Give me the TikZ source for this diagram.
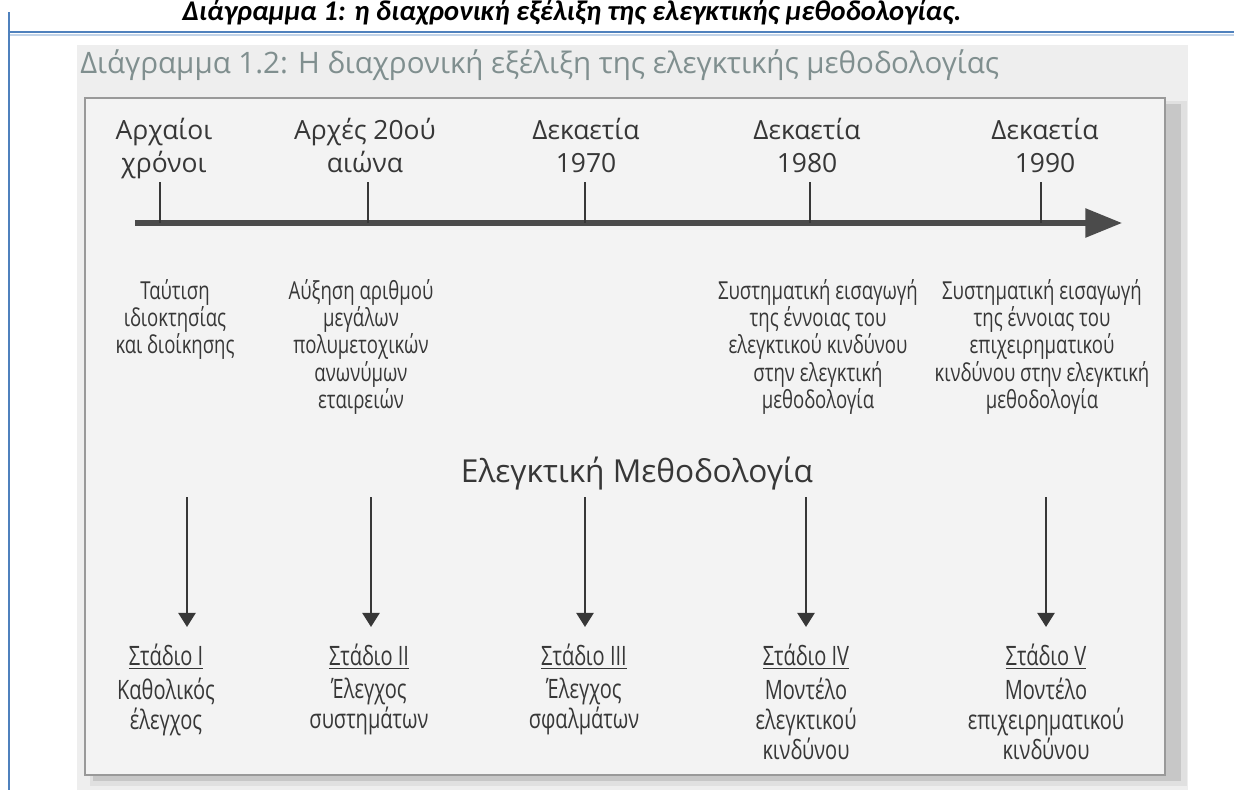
\documentclass[tikz,border=0pt]{standalone}
\usepackage{fontspec}
\setmainfont{Open Sans}
\newfontfamily\titlefont{Carlito}
\newfontfamily\narrowfont[FakeStretch=0.75]{Open Sans}
\usepackage{tikz}
\usetikzlibrary{arrows.meta,positioning}

\definecolor{wordblue}{RGB}{79,129,189}
\definecolor{scanbg}{RGB}{238,238,238}
\definecolor{boxbg}{RGB}{243,243,243}
\definecolor{inkgray}{RGB}{55,55,55}
\definecolor{subgray}{RGB}{128,143,143}

\begin{document}
\begin{tikzpicture}[x=0.025cm,y=-0.025cm,
every node/.style={inner sep=0pt,text=inkgray},
datelabel/.style={anchor=north,align=center,font=\fontsize{18.8}{23.5}\selectfont},
changetext/.style={anchor=north,align=center,font=\narrowfont\fontsize{17.6}{19.4}\selectfont},
stagehead/.style={anchor=north,font=\narrowfont\fontsize{19}{21.3}\selectfont},
stagetext/.style={align=center,font=\narrowfont\fontsize{19}{21.3}\selectfont},
yeartick/.style={draw=inkgray,line width=2pt},
stagearrow/.style={draw=inkgray,line width=2pt,-{Triangle[length=10pt,width=12pt]}}]
\useasboundingbox (0,0) rectangle (1234,790);
\fill[white] (0,0) rectangle (1234,790);
\fill[scanbg] (77,45) rectangle (1188,790);
\fill[black!12] (90,101) rectangle (1187,786);
\fill[black!22] (93,104) rectangle (1181,781);
\draw[draw=black!40,line width=1.2pt,fill=boxbg] (85,98) rectangle (1165,775);
\draw[wordblue,line width=2pt] (9,32) -- (1234,32);
\draw[wordblue!35,line width=1.2pt] (9,35) -- (1234,35);
\draw[wordblue,line width=1.6pt] (9,12) -- (9,790);

\node[anchor=base,font=\titlefont\bfseries\itshape\fontsize{20.3}{24}\selectfont,text=black] (title) at (572,20)
 {Διάγραμμα 1: η διαχρονική εξέλιξη της ελεγκτικής μεθοδολογίας.};
\node[anchor=base west,font=\fontsize{21}{25}\selectfont,text=subgray] (subtitle) at (80,73)
 {Διάγραμμα 1.2: Η διαχρονική εξέλιξη της ελεγκτικής μεθοδολογίας};

\coordinate (tlstart) at (135,223);
\coordinate (tlend) at (1122,223);
\draw[draw=inkgray!90,line width=3.6pt,-{Triangle[length=26pt,width=20pt]}] (tlstart) -- (tlend);
\draw[yeartick] (160,182) -- (160,223);
\draw[yeartick] (368,182) -- (368,223);
\draw[yeartick] (585,182) -- (585,223);
\draw[yeartick] (810,182) -- (810,223);
\draw[yeartick] (1041,182) -- (1041,223);

\node[datelabel] (d1) at (164,118) {Αρχαίοι\\χρόνοι};
\node[datelabel] (d2) at (365,118) {Αρχές 20ού\\αιώνα};
\node[datelabel] (d3) at (586,118) {Δεκαετία\\1970};
\node[datelabel] (d4) at (807,118) {Δεκαετία\\1980};
\node[datelabel] (d5) at (1045,118) {Δεκαετία\\1990};

\node[changetext] (c1) at (175,279) {Ταύτιση\\ιδιοκτησίας\\και διοίκησης};
\node[changetext] (c2) at (361,279) {Αύξηση αριθμού\\μεγάλων\\πολυμετοχικών\\ανωνύμων\\εταιρειών};
\node[changetext] (c4) at (818,279) {Συστηματική εισαγωγή\\της έννοιας του\\ελεγκτικού κινδύνου\\στην ελεγκτική\\μεθοδολογία};
\node[changetext] (c5) at (1042,279) {Συστηματική εισαγωγή\\της έννοιας του\\επιχειρηματικού\\κινδύνου στην ελεγκτική\\μεθοδολογία};

\node[anchor=base,font=\fontsize{22.5}{26}\selectfont] (method) at (637,482) {Ελεγκτική Μεθοδολογία};

\coordinate (m1) at (187,497);
\coordinate (m2) at (371,497);
\coordinate (m3) at (585,497);
\coordinate (m4) at (806,497);
\coordinate (m5) at (1046,497);
\coordinate (p1) at (187,627);
\coordinate (p2) at (371,627);
\coordinate (p3) at (585,627);
\coordinate (p4) at (806,627);
\coordinate (p5) at (1046,627);
\draw[stagearrow] (m1) -- (p1);
\draw[stagearrow] (m2) -- (p2);
\draw[stagearrow] (m3) -- (p3);
\draw[stagearrow] (m4) -- (p4);
\draw[stagearrow] (m5) -- (p5);

\node[stagehead] (s1) at (166,644) {\underline{Στάδιο I}};
\node[stagehead] (s2) at (369,644) {\underline{Στάδιο II}};
\node[stagehead] (s3) at (584,644) {\underline{Στάδιο III}};
\node[stagehead] (s4) at (806,644) {\underline{Στάδιο IV}};
\node[stagehead] (s5) at (1046,644) {\underline{Στάδιο V}};
\node[stagetext,below=6pt of s1] (b1) {Καθολικός\\έλεγχος};
\node[stagetext,below=6pt of s2] (b2) {Έλεγχος\\συστημάτων};
\node[stagetext,below=6pt of s3] (b3) {Έλεγχος\\σφαλμάτων};
\node[stagetext,below=6pt of s4] (b4) {Μοντέλο\\ελεγκτικού\\κινδύνου};
\node[stagetext,below=6pt of s5] (b5) {Μοντέλο\\επιχειρηματικού\\κινδύνου};
\end{tikzpicture}
\end{document}
